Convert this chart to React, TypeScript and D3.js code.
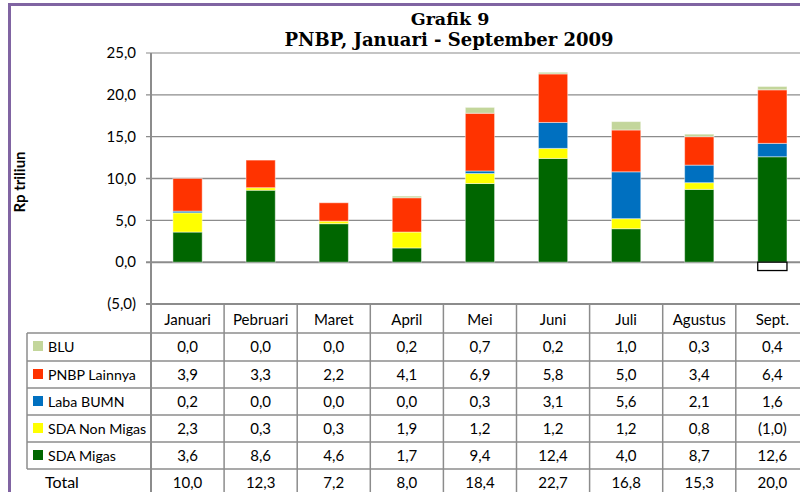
import React from "react";
import * as d3 from "d3";

const months = ["Januari", "Pebruari", "Maret", "April", "Mei", "Juni", "Juli", "Agustus", "Sept."];
const sdaMigas = [3.6, 8.6, 4.6, 1.7, 9.4, 12.4, 4.0, 8.7, 12.6];
const sdaNonMigas = [2.3, 0.3, 0.3, 1.9, 1.2, 1.2, 1.2, 0.8, -1.0];
const labaBumn = [0.2, 0.0, 0.0, 0.0, 0.3, 3.1, 5.6, 2.1, 1.6];
const pnbpLainnya = [3.9, 3.3, 2.2, 4.1, 6.9, 5.8, 5.0, 3.4, 6.4];
const blu = [0.0, 0.0, 0.0, 0.2, 0.7, 0.2, 1.0, 0.3, 0.4];
const totals = [10.0, 12.3, 7.2, 8.0, 18.4, 22.7, 16.8, 15.3, 20.0];
const yTicks = [-5, 0, 5, 10, 15, 20, 25];

const seriesKeys = ["SDA Migas", "SDA Non Migas", "Laba BUMN", "PNBP Lainnya", "BLU"];
const seriesValues = [sdaMigas, sdaNonMigas, labaBumn, pnbpLainnya, blu];
const seriesColors = ["#006600", "#FFFF00", "#0070C0", "#FF3300", "#C3D69B"];

const W = 800;
const H = 492;
const FONT = "Lato, 'Open Sans', sans-serif";

function fmt(v: number): string {
  const s = d3.format(".1f")(Math.abs(v)).replace(".", ",");
  return v < 0 ? `(${s})` : s;
}

export default function App() {
  const plotLeft = 151;
  const step = 73.1;
  const plotRight = plotLeft + step * months.length;
  const x = d3.scaleBand<string>().domain(months).range([plotLeft, plotRight]).padding(0);
  const y = d3.scaleLinear().domain([-5, 25]).range([304, 53]);
  const barW = step * 0.4;

  const table = months.map((m, i) => {
    const o: any = { month: m };
    seriesKeys.forEach((k, j) => (o[k] = seriesValues[j][i]));
    return o;
  });
  const stacked = d3.stack<any>().keys(seriesKeys).offset(d3.stackOffsetDiverging)(table);

  const gridColor = "#8c8c8c";
  const lineColor = "#8c8c8c";
  const rowTops = [333, 361, 388, 415, 442, 469];
  const legendRows = [4, 3, 2, 1, 0]; // BLU, PNBP, Laba, SDA Non, SDA Migas
  const legendLeft = 27;

  return (
    <svg width={W} height={H} style={{ position: "absolute", left: 0, top: 0, background: "#fff" }}>
      <rect x={0} y={0} width={W} height={H} fill="#fff" />
      {/* frame */}
      <line x1={8} x2={W} y1={4.5} y2={4.5} stroke="#8064A2" strokeWidth={3} />
      <line x1={9.5} x2={9.5} y1={3} y2={H} stroke="#8064A2" strokeWidth={3} />

      {/* title */}
      <text x={450} y={25} textAnchor="middle" fontFamily="'DejaVu Serif', serif" fontWeight="bold" fontSize={17.5}>
        Grafik 9
      </text>
      <text x={449} y={46} textAnchor="middle" fontFamily="'DejaVu Serif', serif" fontWeight="bold" fontSize={18}>
        PNBP, Januari - September 2009
      </text>

      {/* y axis title */}
      <text
        transform="translate(25,182) rotate(-90)"
        textAnchor="middle"
        fontFamily={FONT}
        fontWeight="bold"
        fontSize={15}
      >
        Rp triliun
      </text>

      {/* gridlines */}
      {yTicks.map((t) => (
        <g key={t}>
          <line
            x1={146}
            x2={W}
            y1={y(t)}
            y2={y(t)}
            stroke={t === 25 ? "#b0b0b0" : gridColor}
            strokeWidth={t === 0 || t === -5 ? 2 : 1.3}
          />
          <text x={136} y={y(t)} dy="0.35em" textAnchor="end" fontFamily={FONT} fontSize={15} fill="#000">
            {fmt(t)}
          </text>
        </g>
      ))}

      {/* bars */}
      {stacked.map((s, j) => (
        <g key={s.key}>
          {s.map((d, i) => {
            const v = seriesValues[j][i];
            if (v === 0) return null;
            const y0 = y(Math.max(d[0], d[1]));
            const y1 = y(Math.min(d[0], d[1]));
            const neg = v < 0;
            return (
              <rect
                key={i}
                x={(x(months[i]) as number) + (step - barW) / 2}
                y={y0}
                width={barW}
                height={y1 - y0}
                fill={neg ? "#ffffff" : seriesColors[j]}
                stroke={neg ? "#000" : "rgba(255,255,255,0.45)"}
                strokeWidth={neg ? 1.3 : 1}
              />
            );
          })}
        </g>
      ))}

      {/* left axis */}
      <line x1={plotLeft} x2={plotLeft} y1={53} y2={H} stroke={lineColor} strokeWidth={2} />

      {/* category row and table verticals */}
      {months.map((m, i) => (
        <g key={m}>
          {i > 0 && (
            <line
              x1={x(m) as number}
              x2={x(m) as number}
              y1={304}
              y2={H}
              stroke={lineColor}
              strokeWidth={1.5}
            />
          )}
          <text
            x={(x(m) as number) + step / 2}
            y={325}
            textAnchor="middle"
            fontFamily={FONT}
            fontSize={15}
          >
            {m}
          </text>
        </g>
      ))}

      {/* table horizontals */}
      {rowTops.map((r) => (
        <line key={r} x1={legendLeft} x2={W} y1={r} y2={r} stroke={lineColor} strokeWidth={1.5} />
      ))}
      <line x1={legendLeft} x2={legendLeft} y1={333} y2={469} stroke={lineColor} strokeWidth={1.5} />

      {/* legend rows */}
      {legendRows.map((j, r) => {
        const top = rowTops[r];
        return (
          <g key={seriesKeys[j]}>
            <rect x={33} y={top + 8} width={10} height={10} fill={seriesColors[j]} />
            <text x={48} y={top + 19} fontFamily={FONT} fontSize={14.2}>
              {seriesKeys[j]}
            </text>
            {months.map((m, i) => (
              <text
                key={m}
                x={(x(m) as number) + step / 2}
                y={top + 19}
                textAnchor="middle"
                fontFamily={FONT}
                fontSize={15}
              >
                {fmt(seriesValues[j][i])}
              </text>
            ))}
          </g>
        );
      })}

      {/* total row */}
      <text x={45} y={488} fontFamily={FONT} fontSize={16}>
        Total
      </text>
      {months.map((m, i) => (
        <text
          key={m}
          x={(x(m) as number) + step / 2}
          y={488}
          textAnchor="middle"
          fontFamily={FONT}
          fontSize={15}
        >
          {fmt(totals[i])}
        </text>
      ))}
    </svg>
  );
}
